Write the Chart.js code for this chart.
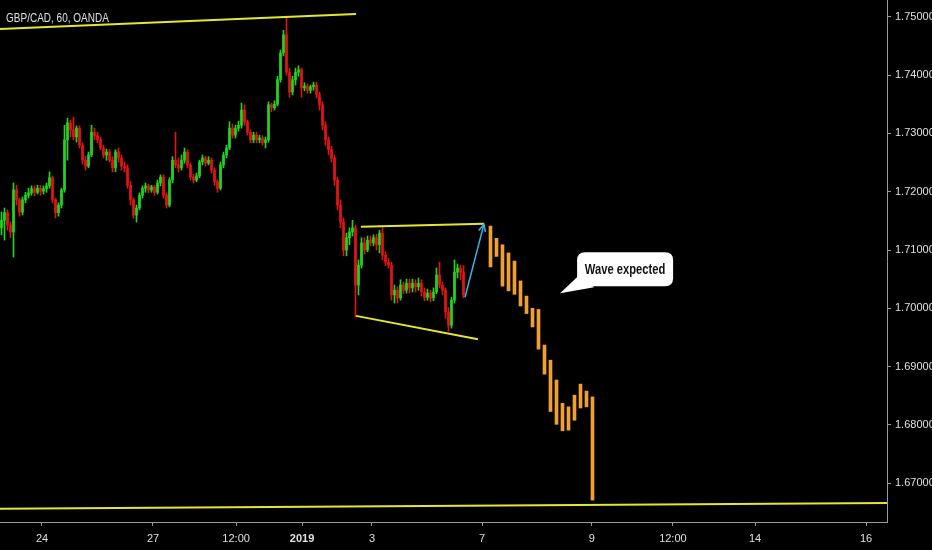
<!DOCTYPE html>
<html>
<head>
<meta charset="utf-8">
<script src="https://cdn.jsdelivr.net/npm/chart.js@4"></script>
<style>
  html, body { margin: 0; padding: 0; background: #000; }
  #wrap { width: 932px; height: 550px; }
</style>
</head>
<body>
<div id="wrap"><canvas id="c" width="932" height="550"></canvas></div>
<script>
// GBP/CAD hourly candles (one per bar index)
const opens = [1.7138,1.7151,1.7164,1.7143,1.7131,1.7203,1.7186,1.7165,1.7186,1.7194,
  1.7198,1.7205,1.7199,1.7206,1.7201,1.7205,1.7210,1.7224,1.7186,1.7164,
  1.7177,1.7203,1.7289,1.7318,1.7306,1.7294,1.7309,1.7280,1.7254,1.7244,
  1.7263,1.7302,1.7296,1.7289,1.7275,1.7263,1.7268,1.7254,1.7241,1.7268,
  1.7258,1.7244,1.7241,1.7211,1.7186,1.7160,1.7172,1.7194,1.7206,1.7210,
  1.7203,1.7208,1.7199,1.7215,1.7225,1.7194,1.7177,1.7220,1.7254,1.7246,
  1.7241,1.7254,1.7268,1.7246,1.7225,1.7220,1.7227,1.7251,1.7258,1.7249,
  1.7254,1.7237,1.7217,1.7206,1.7246,1.7263,1.7275,1.7309,1.7297,1.7309,
  1.7314,1.7340,1.7320,1.7302,1.7289,1.7297,1.7289,1.7292,1.7284,1.7289,
  1.7349,1.7344,1.7350,1.7392,1.7438,1.7469,1.7405,1.7371,1.7392,1.7405,
  1.7409,1.7378,1.7381,1.7374,1.7380,1.7383,1.7366,1.7349,1.7314,1.7289,
  1.7272,1.7258,1.7220,1.7177,1.7148,1.7100,1.7121,1.7131,1.7138,1.7040,
  1.7074,1.7112,1.7100,1.7117,1.7112,1.7121,1.7109,1.7129,1.7091,1.7079,
  1.7074,1.7023,1.7031,1.7018,1.7040,1.7031,1.7043,1.7035,1.7043,1.7037,
  1.7043,1.7028,1.7019,1.7026,1.7018,1.7028,1.7057,1.7040,1.7031,1.6994,
  1.6971,1.7014,1.7062,1.7069,1.7062];
const highs = [1.7165,1.7172,1.7169,1.7148,1.7215,1.7211,1.7189,1.7191,1.7199,1.7206,
  1.7210,1.7210,1.7211,1.7211,1.7210,1.7215,1.7234,1.7227,1.7189,1.7181,
  1.7206,1.7314,1.7326,1.7323,1.7328,1.7313,1.7313,1.7284,1.7261,1.7268,
  1.7314,1.7309,1.7302,1.7294,1.7280,1.7273,1.7272,1.7260,1.7272,1.7275,
  1.7263,1.7251,1.7246,1.7217,1.7189,1.7177,1.7198,1.7210,1.7215,1.7213,
  1.7211,1.7211,1.7220,1.7229,1.7229,1.7198,1.7224,1.7260,1.7302,1.7258,
  1.7263,1.7275,1.7272,1.7249,1.7230,1.7232,1.7254,1.7263,1.7261,1.7260,
  1.7258,1.7241,1.7220,1.7251,1.7268,1.7280,1.7320,1.7316,1.7314,1.7321,
  1.7352,1.7349,1.7323,1.7306,1.7302,1.7302,1.7297,1.7296,1.7294,1.7354,
  1.7352,1.7356,1.7398,1.7443,1.7477,1.7501,1.7412,1.7398,1.7412,1.7416,
  1.7412,1.7387,1.7385,1.7383,1.7388,1.7388,1.7371,1.7354,1.7320,1.7294,
  1.7278,1.7263,1.7225,1.7186,1.7155,1.7129,1.7138,1.7151,1.7143,1.7083,
  1.7121,1.7121,1.7124,1.7124,1.7126,1.7127,1.7134,1.7138,1.7097,1.7086,
  1.7079,1.7040,1.7037,1.7049,1.7045,1.7050,1.7050,1.7050,1.7049,1.7052,
  1.7049,1.7035,1.7033,1.7031,1.7035,1.7069,1.7079,1.7045,1.7035,1.7001,
  1.7019,1.7083,1.7076,1.7074,1.7073];
const lows = [1.7126,1.7117,1.7134,1.7121,1.7088,1.7177,1.7158,1.7160,1.7181,1.7189,
  1.7194,1.7193,1.7196,1.7194,1.7196,1.7199,1.7206,1.7181,1.7155,1.7158,
  1.7172,1.7199,1.7254,1.7294,1.7289,1.7285,1.7275,1.7247,1.7237,1.7241,
  1.7260,1.7289,1.7284,1.7272,1.7258,1.7254,1.7251,1.7234,1.7234,1.7251,
  1.7237,1.7234,1.7206,1.7177,1.7155,1.7148,1.7169,1.7189,1.7199,1.7198,
  1.7199,1.7194,1.7196,1.7210,1.7189,1.7172,1.7174,1.7215,1.7241,1.7234,
  1.7237,1.7249,1.7241,1.7220,1.7215,1.7217,1.7224,1.7246,1.7244,1.7246,
  1.7232,1.7211,1.7199,1.7203,1.7241,1.7258,1.7272,1.7292,1.7292,1.7304,
  1.7309,1.7314,1.7297,1.7284,1.7284,1.7284,1.7284,1.7280,1.7275,1.7285,
  1.7337,1.7340,1.7347,1.7388,1.7433,1.7400,1.7362,1.7366,1.7383,1.7398,
  1.7362,1.7373,1.7369,1.7369,1.7374,1.7361,1.7340,1.7306,1.7280,1.7263,
  1.7251,1.7211,1.7169,1.7138,1.7090,1.7090,1.7109,1.7124,1.6985,1.7023,
  1.7069,1.7093,1.7097,1.7107,1.7107,1.7100,1.7095,1.7083,1.7073,1.7069,
  1.7014,1.7009,1.7009,1.7014,1.7025,1.7026,1.7026,1.7028,1.7028,1.7031,
  1.7021,1.7013,1.7014,1.7011,1.7013,1.7025,1.7035,1.7023,1.6983,1.6961,
  1.6966,1.7009,1.7052,1.7049,1.7018];
const closes = [1.7151,1.7164,1.7143,1.7131,1.7203,1.7186,1.7165,1.7186,1.7194,1.7198,
  1.7205,1.7199,1.7206,1.7201,1.7205,1.7210,1.7224,1.7186,1.7164,1.7177,
  1.7203,1.7289,1.7318,1.7306,1.7294,1.7309,1.7280,1.7254,1.7244,1.7263,
  1.7302,1.7296,1.7289,1.7275,1.7263,1.7268,1.7254,1.7241,1.7268,1.7258,
  1.7244,1.7241,1.7211,1.7186,1.7160,1.7172,1.7194,1.7206,1.7210,1.7203,
  1.7208,1.7199,1.7215,1.7225,1.7194,1.7177,1.7220,1.7254,1.7246,1.7241,
  1.7254,1.7268,1.7246,1.7225,1.7220,1.7227,1.7251,1.7258,1.7249,1.7254,
  1.7237,1.7217,1.7206,1.7246,1.7263,1.7275,1.7309,1.7297,1.7309,1.7314,
  1.7340,1.7320,1.7302,1.7289,1.7297,1.7289,1.7292,1.7284,1.7289,1.7349,
  1.7344,1.7350,1.7392,1.7438,1.7469,1.7405,1.7371,1.7392,1.7405,1.7409,
  1.7378,1.7381,1.7374,1.7380,1.7383,1.7366,1.7349,1.7314,1.7289,1.7272,
  1.7258,1.7220,1.7177,1.7148,1.7100,1.7121,1.7131,1.7138,1.7040,1.7074,
  1.7112,1.7100,1.7117,1.7112,1.7121,1.7109,1.7129,1.7091,1.7079,1.7074,
  1.7023,1.7031,1.7018,1.7040,1.7031,1.7043,1.7035,1.7043,1.7037,1.7043,
  1.7028,1.7019,1.7026,1.7018,1.7028,1.7057,1.7040,1.7031,1.6994,1.6971,
  1.7014,1.7062,1.7069,1.7062,1.7023];

// projected "wave" bars (orange)
const projX    = [163,165,167,169,171,173,175,177,179,181,183,185,187,189,191,193,195,197];
const projHigh = [1.7141,1.7120,1.7109,1.7095,1.7081,1.7047,1.7021,1.7000,1.6998,1.6937,1.6911,1.6877,1.6837,1.6831,1.6851,1.6870,1.6858,1.6848];
const projLow  = [1.7071,1.7089,1.7038,1.7030,1.7024,1.7004,1.6991,1.6968,1.6930,1.6887,1.6823,1.6801,1.6790,1.6791,1.6808,1.6829,1.6831,1.6671];

// drawn trend lines [x, price]
const topLine    = [[-0.5, 1.7479], [118.2, 1.7505]];
const wedgeTop   = [[119.8, 1.7140], [160.8, 1.7145]];
const wedgeBot   = [[118.2, 1.6987], [158.8, 1.6947]];
const baseLine   = [[-0.5, 1.6656], [295.2, 1.6666]];
const arrowLine  = [[154.5, 1.7019], [160.8, 1.7144]];

// axis ticks
const yTicks = [1.67, 1.68, 1.69, 1.70, 1.71, 1.72, 1.73, 1.74, 1.75];
const xTickPos = [13.5, 50.5, 78.2, 100.2, 123.5, 160.2, 196.8, 223.8, 251.2, 288.2];
const xTickLabels = ['24', '27', '12:00', '2019', '3', '7', '9', '12:00', '14', '16'];

const callout = { x: 186.2, y: 1.7026, text: 'Wave expected' };
const title = 'GBP/CAD, 60, OANDA';

const GREEN = '#22d422';
const RED = '#e01414';
const YELLOW = '#e6e632';
const CYAN = '#3cb4e6';
const ORANGE = '#f0a032';
const FONT = "'Liberation Sans', Arial, sans-serif";

const candleColors = closes.map((c, i) => c >= opens[i] ? GREEN : RED);
const toPts = arr => arr.map(p => ({ x: p[0], y: p[1] }));

const lineDs = (pts, color, width) => ({
    type: 'line',
    data: toPts(pts),
    borderColor: color,
    borderWidth: width,
    pointRadius: 0,
    fill: false,
    order: 0
});

// narrow text: the original uses a condensed face, so squeeze horizontally
function narrowText(ctx, text, x, y, squeeze) {
    ctx.save();
    ctx.translate(x, y);
    ctx.scale(squeeze, 1);
    ctx.fillText(text, 0, 0);
    ctx.restore();
}

const arrowHead = {
    id: 'arrowHead',
    afterDatasetsDraw(chart) {
        const meta = chart.getDatasetMeta(7);
        const a = meta.data[0], b = meta.data[1];
        const ang = Math.atan2(b.y - a.y, b.x - a.x);
        const ctx = chart.ctx;
        ctx.save();
        ctx.strokeStyle = CYAN;
        ctx.lineWidth = 1.5;
        ctx.beginPath();
        ctx.moveTo(b.x - 8 * Math.cos(ang - 0.45), b.y - 8 * Math.sin(ang - 0.45));
        ctx.lineTo(b.x, b.y);
        ctx.lineTo(b.x - 8 * Math.cos(ang + 0.45), b.y - 8 * Math.sin(ang + 0.45));
        ctx.stroke();
        ctx.restore();
    }
};

const overlay = {
    id: 'overlay',
    afterDraw(chart) {
        const ctx = chart.ctx;
        const tx = chart.scales.x.getPixelForValue(callout.x);
        const ty = chart.scales.y.getPixelForValue(callout.y);
        // speech bubble
        const l = tx + 17, t = ty - 41, w = 96, h = 34, r = 8;
        ctx.save();
        ctx.fillStyle = '#ffffff';
        ctx.beginPath();
        ctx.moveTo(l + r, t);
        ctx.lineTo(l + w - r, t);
        ctx.quadraticCurveTo(l + w, t, l + w, t + r);
        ctx.lineTo(l + w, t + h - r);
        ctx.quadraticCurveTo(l + w, t + h, l + w - r, t + h);
        ctx.lineTo(l + r, t + h);
        ctx.quadraticCurveTo(l, t + h, l, t + h - r);
        ctx.lineTo(l, t + r);
        ctx.quadraticCurveTo(l, t, l + r, t);
        ctx.closePath();
        ctx.fill();
        ctx.beginPath();
        ctx.moveTo(tx, ty);
        ctx.lineTo(tx + 19, ty - 18);
        ctx.lineTo(tx + 34, ty - 6);
        ctx.closePath();
        ctx.fill();
        ctx.fillStyle = '#111111';
        ctx.font = "bold 14px " + FONT;
        ctx.textAlign = 'center';
        ctx.textBaseline = 'middle';
        narrowText(ctx, callout.text, l + w / 2, t + h / 2 + 1, 0.8);
        // title
        ctx.fillStyle = '#e0e0e0';
        ctx.font = "13px " + FONT;
        ctx.textAlign = 'left';
        narrowText(ctx, title, 6, 18, 0.77);
        ctx.restore();
    }
};

new Chart(document.getElementById('c'), {
    type: 'bar',
    data: {
        datasets: [
            {
                data: lows.map((lo, i) => ({ x: i, y: [lo, highs[i]] })),
                backgroundColor: candleColors,
                barThickness: 1,
                grouped: false,
                order: 2
            },
            {
                data: opens.map((o, i) => ({ x: i, y: [o, closes[i]] })),
                backgroundColor: candleColors,
                barThickness: 2,
                minBarLength: 1,
                grouped: false,
                order: 1
            },
            {
                data: projX.map((x, k) => ({ x: x, y: [projLow[k], projHigh[k]] })),
                backgroundColor: ORANGE,
                barThickness: 3,
                grouped: false,
                order: 1
            },
            lineDs(topLine, YELLOW, 2),
            lineDs(wedgeTop, YELLOW, 2),
            lineDs(wedgeBot, YELLOW, 2),
            lineDs(baseLine, YELLOW, 2),
            lineDs(arrowLine, CYAN, 1.5)
        ]
    },
    options: {
        responsive: false,
        animation: false,
        layout: { padding: 0 },
        plugins: { legend: { display: false }, tooltip: { enabled: false } },
        scales: {
            x: {
                type: 'linear',
                min: -0.5,
                max: 295.17,
                offset: false,
                afterBuildTicks: s => { s.ticks = xTickPos.map(v => ({ value: v })); },
                afterFit: s => { s.height = 28; s.paddingLeft = 0; s.paddingRight = 0; },
                ticks: {
                    autoSkip: false,
                    maxRotation: 0,
                    padding: 6,
                    color: '#e0e0e0',
                    font: ctx => ({ family: FONT, size: 11, weight: xTickLabels[ctx.index] === '2019' ? 'bold' : 'normal' }),
                    callback: (v, i) => xTickLabels[i]
                },
                grid: { drawOnChartArea: false, drawTicks: true, tickLength: 4, color: '#9a9a9a', offset: false },
                border: { display: true, color: '#9a9a9a', width: 1 }
            },
            y: {
                position: 'right',
                min: 1.663345,
                max: 1.752882,
                afterBuildTicks: s => { s.ticks = yTicks.map(v => ({ value: v })); },
                afterFit: s => { s.width = 45; s.paddingTop = 0; s.paddingBottom = 0; },
                ticks: {
                    padding: 4,
                    color: '#e0e0e0',
                    font: { family: FONT, size: 11 },
                    callback: v => v.toFixed(5)
                },
                grid: { drawOnChartArea: false, drawTicks: true, tickLength: 4, color: '#9a9a9a' },
                border: { display: true, color: '#9a9a9a', width: 1 }
            }
        }
    },
    plugins: [arrowHead, overlay]
});
</script>
</body>
</html>
